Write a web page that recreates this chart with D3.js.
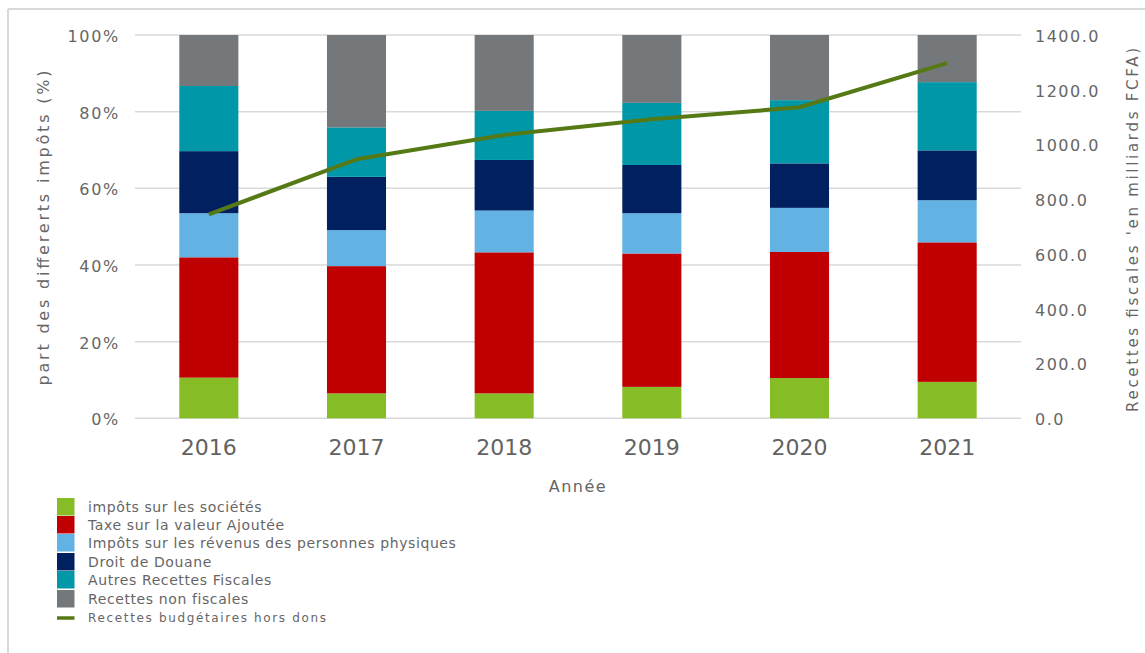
<!DOCTYPE html>
<html>
<head>
<meta charset="utf-8">
<script src="https://cdn.jsdelivr.net/npm/d3@7"></script>
<style>
  html, body { margin: 0; padding: 0; background: #fff; }
  svg { display: block; }
  text { font-family: "DejaVu Sans", Verdana, sans-serif; fill: #666; }
</style>
</head>
<body>
<svg id="chart" width="1145" height="653"></svg>
<script>
// Années
const years = ["2016", "2017", "2018", "2019", "2020", "2021"];

// Part de chaque recette dans le total (%), du bas vers le haut de la pile
const impotsSocietes   = [10.6, 6.5, 6.5, 8.2, 10.5, 9.5];
const tva              = [31.4, 33.2, 36.8, 34.8, 32.9, 36.4];
const irpp             = [11.5, 9.4, 10.9, 10.5, 11.5, 11.0];
const droitDouane      = [16.2, 13.9, 13.2, 12.6, 11.6, 13.0];
const autresFiscales   = [17.0, 12.9, 12.8, 16.2, 16.5, 17.8];
const nonFiscales      = [13.3, 24.1, 19.8, 17.7, 17.0, 12.3];

// Recettes budgétaires hors dons (milliards FCFA)
const recettesHorsDons = [745, 946, 1035, 1092, 1136, 1297];

const seriesNames = [
  "impôts sur les sociétés",
  "Taxe sur la valeur Ajoutée",
  "Impôts sur les révenus des personnes physiques",
  "Droit de Douane",
  "Autres Recettes Fiscales",
  "Recettes non fiscales"
];
const seriesValues = [impotsSocietes, tva, irpp, droitDouane, autresFiscales, nonFiscales];
const seriesColors = ["#86bc25", "#c00000", "#62b3e4", "#002060", "#0097a9", "#75787b"];
const lineName = "Recettes budgétaires hors dons";
const lineColor = "#557a15";

const leftTicks = [0, 20, 40, 60, 80, 100];
const rightTicks = [0, 200, 400, 600, 800, 1000, 1200, 1400];

const svg = d3.select("#chart");

// Cadre
svg.append("line").attr("x1", 8).attr("x2", 1145).attr("y1", 9).attr("y2", 9)
  .attr("stroke", "#d9d9d9").attr("stroke-width", 2);
svg.append("line").attr("x1", 8).attr("x2", 8).attr("y1", 9).attr("y2", 653)
  .attr("stroke", "#d9d9d9").attr("stroke-width", 2);

const plot = { left: 135, right: 1021, top: 35, bottom: 418.3 };

const x = d3.scaleBand().domain(years).range([plot.left, plot.right]).padding(0);
const barW = x.bandwidth() * 0.4;
const yPct = d3.scaleLinear().domain([0, 100]).range([plot.bottom, plot.top]);
const yVal = d3.scaleLinear().domain([0, 1400]).range([plot.bottom, plot.top]);

// Grille horizontale
svg.append("g").selectAll("line").data(leftTicks).join("line")
  .attr("x1", plot.left).attr("x2", plot.right)
  .attr("y1", d => yPct(d)).attr("y2", d => yPct(d))
  .attr("stroke", "#d9d9d9").attr("stroke-width", 1.5);

// Barres empilées
const rows = years.map((yr, i) => {
  const r = { year: yr };
  seriesNames.forEach((n, k) => { r[n] = seriesValues[k][i]; });
  return r;
});
const stacked = d3.stack().keys(seriesNames)(rows);

svg.append("g").selectAll("g").data(stacked).join("g")
  .attr("fill", (d, k) => seriesColors[k])
  .selectAll("rect").data(d => d).join("rect")
  .attr("x", d => x(d.data.year) + (x.bandwidth() - barW) / 2)
  .attr("width", barW)
  .attr("y", d => yPct(d[1]))
  .attr("height", d => yPct(d[0]) - yPct(d[1]));

// Courbe des recettes
const line = d3.line()
  .x((d, i) => x(years[i]) + x.bandwidth() / 2)
  .y(d => yVal(d));
svg.append("path").datum(recettesHorsDons)
  .attr("d", line).attr("fill", "none")
  .attr("stroke", lineColor).attr("stroke-width", 4)
  .attr("stroke-linejoin", "round");

// Axe gauche
const axL = svg.append("g").attr("transform", `translate(${plot.left - 15},0)`)
  .call(d3.axisLeft(yPct).tickValues(leftTicks).tickFormat(d => d + "%").tickSize(0).tickPadding(0));
axL.select(".domain").remove();
axL.selectAll("text").style("font-size", "16px").style("letter-spacing", "1.7px")
  .style("fill", "#666").attr("dy", "0.4em");

// Axe droit
const axR = svg.append("g").attr("transform", `translate(${plot.right + 14},0)`)
  .call(d3.axisRight(yVal).tickValues(rightTicks).tickFormat(d3.format(".1f")).tickSize(0).tickPadding(0));
axR.select(".domain").remove();
axR.selectAll("text").style("font-size", "16px").style("letter-spacing", "1.5px")
  .style("fill", "#666").attr("dy", "0.4em");

// Axe des années
const axB = svg.append("g").attr("transform", `translate(0,${plot.bottom})`)
  .call(d3.axisBottom(x).tickSize(0).tickPadding(0));
axB.select(".domain").remove();
axB.selectAll("text").style("font-size", "22px").style("fill", "#626262")
  .attr("y", 37).attr("dy", 0);

// Titres des axes
svg.append("text").attr("x", 578).attr("y", 492).attr("text-anchor", "middle")
  .style("font-size", "16px").style("letter-spacing", "1.5px").text("Année");

svg.append("text")
  .attr("transform", "translate(49,228) rotate(-90)")
  .attr("text-anchor", "middle")
  .attr("textLength", 315).attr("lengthAdjust", "spacing")
  .style("font-size", "16px")
  .text("part des  differerts impôts (%)");

svg.append("text")
  .attr("transform", "translate(1138,230) rotate(-90)")
  .attr("text-anchor", "middle")
  .attr("textLength", 364).attr("lengthAdjust", "spacing")
  .style("font-size", "15px")
  .text("Recettes fiscales 'en milliards FCFA)");

// Légende
const legend = svg.append("g");
const legendY = [507, 525, 543, 562, 580, 599];
seriesNames.forEach((n, k) => {
  legend.append("rect").attr("x", 57).attr("y", legendY[k] - 9)
    .attr("width", 17.5).attr("height", 17.5).attr("fill", seriesColors[k]);
  legend.append("text").attr("x", 88).attr("y", legendY[k]).attr("dy", "0.35em")
    .style("font-size", "14px").style("letter-spacing", "0.6px").text(n);
});
legend.append("line").attr("x1", 57).attr("x2", 74.5).attr("y1", 618).attr("y2", 618)
  .attr("stroke", lineColor).attr("stroke-width", 3.5);
legend.append("text").attr("x", 88).attr("y", 618).attr("dy", "0.35em")
  .attr("textLength", 238).attr("lengthAdjust", "spacing")
  .style("font-size", "12px").text(lineName);
</script>
</body>
</html>
